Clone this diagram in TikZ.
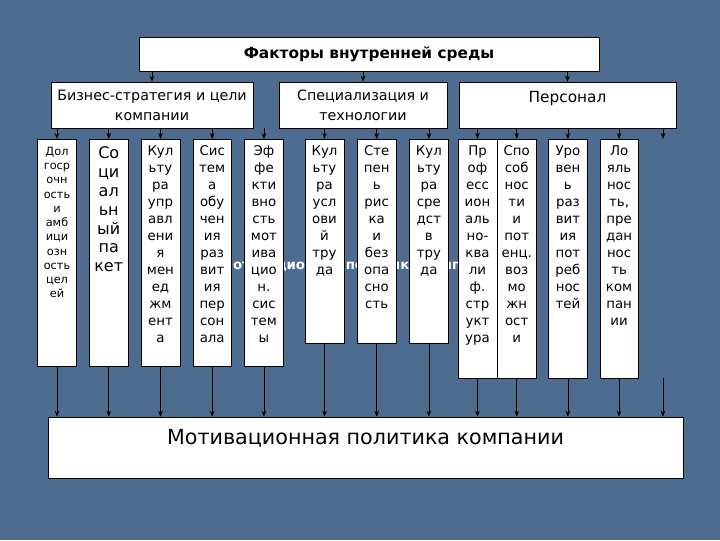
\documentclass[tikz,border=0pt]{standalone}
\usepackage{fontspec}
\setmainfont{DejaVu Sans}
\usetikzlibrary{positioning,arrows.meta}
\definecolor{fon}{RGB}{78,108,144}

\begin{document}
\begin{tikzpicture}[x=0.75pt,y=-0.75pt,>={Stealth[length=4.5pt,width=3.5pt]},
 blok/.style={draw,fill=white,inner sep=0pt,align=center,font=\fontsize{10.7}{15}\selectfont},
 kol/.style={draw,fill=white,inner sep=0pt,anchor=north,align=center,text width=29pt,text height=12pt,font=\fontsize{10}{12.75}\selectfont},
 strelka/.style={->,line width=0.6pt}]

 \fill[fon] (0,0) rectangle (720,540);
 \useasboundingbox (0,0) rectangle (720,540);

 \node[text=white,font=\bfseries\fontsize{10}{12}\selectfont] (ten) at (359,266) {Мотивационная политика компании};

 \node[blok,minimum width=345pt,minimum height=25.5pt,font=\bfseries\fontsize{11.5}{14}\selectfont] (fak) at (369,54) {Факторы внутренней среды};
 \node[blok,minimum width=151.5pt,minimum height=34.5pt] (biz) at (152,105) {Бизнес-стратегия и цели\\компании};
 \node[blok,minimum width=126pt,minimum height=34.5pt] (spec) at (363,105) {Специализация и\\технологии};
 \node[blok,minimum width=162.75pt,minimum height=34.5pt,text depth=12pt,font=\fontsize{11.5}{14}\selectfont] (pers) at (567.5,105) {Персонал};

 % business columns
 \node[kol,text depth=158.25pt,font=\fontsize{8.5}{10.7}\selectfont] (k1) at (57,139) {Дол\\госр\\очн\\ость\\и\\амб\\ици\\озн\\ость\\цел\\ей};
 \node[kol,text height=14.25pt,text depth=156pt,font=\fontsize{12}{14.2}\selectfont,right=9.4pt of k1] (k2) {Со\\ци\\ал\\ьн\\ый\\па\\кет};
 \node[kol,text depth=158.25pt,right=9.4pt of k2] (k3) {Кул\\ьту\\ра\\упр\\авл\\ени\\я\\мен\\ед\\жм\\ент\\а};
 \node[kol,text depth=158.25pt,right=9.4pt of k3] (k4) {Сис\\тем\\а\\обу\\чен\\ия\\раз\\вит\\ия\\пер\\сон\\ала};
 \node[kol,text depth=158.25pt,right=9.4pt of k4] (k5) {Эф\\фе\\кти\\вно\\сть\\мот\\ива\\цио\\н.\\сис\\тем\\ы};

 % technology columns
 \node[kol,text depth=141pt] (k6) at (324.5,139) {Кул\\ьту\\ра\\усл\\ови\\й\\тру\\да};
 \node[kol,text depth=141pt,right=9.75pt of k6] (k7) {Сте\\пен\\ь\\рис\\ка\\и\\без\\опа\\сно\\сть};
 \node[kol,text depth=141pt,right=9.75pt of k7] (k8) {Кул\\ьту\\ра\\сре\\дст\\в\\тру\\да};

 % personnel columns
 \node[kol,text depth=167.25pt] (k9) at (477.5,139) {Пр\\оф\\есс\\ион\\аль\\но-\\ква\\ли\\ф.\\стр\\укт\\ура};
 \node[kol,text depth=167.25pt,right=0pt of k9] (k10) {Спо\\соб\\нос\\ти\\и\\пот\\енц.\\воз\\мо\\жн\\ост\\и};
 \node[kol,text depth=167.25pt,right=9pt of k10] (k11) {Уро\\вен\\ь\\раз\\вит\\ия\\пот\\реб\\нос\\тей};
 \node[kol,text depth=167.25pt,right=9pt of k11] (k12) {Ло\\яль\\нос\\ть,\\пре\\дан\\нос\\ть\\ком\\пан\\ии};

 \node[blok,minimum width=476.25pt,minimum height=45.75pt,text depth=16pt,font=\fontsize{15.5}{18}\selectfont] (mot) at (365.5,447.5) {Мотивационная политика компании};

 \coordinate (pusto) at (663,139);
 \coordinate (pusto2) at (663,378);

 \foreach \b in {biz,spec,pers}
  \draw[strelka] (fak.south -| \b.north) -- (\b.north);
 \foreach \k in {k1,k2,k3,k4,k5}
  \draw[strelka] (biz.south -| \k.north) -- (\k.north);
 \foreach \k in {k6,k7,k8}
  \draw[strelka] (spec.south -| \k.north) -- (\k.north);
 \foreach \k in {k9,k10,k11,k12,pusto}
  \draw[strelka] (pers.south -| \k) -- (\k);
 \foreach \k in {k1,k2,k3,k4,k5,k6,k7,k8,k9,k10,k11,k12,pusto2}
  \draw[strelka] (\k.south) -- (\k.south |- mot.north);
\end{tikzpicture}
\end{document}
